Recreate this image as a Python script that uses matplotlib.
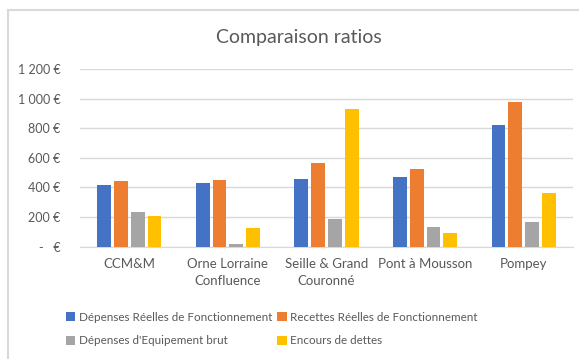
import matplotlib.pyplot as plt
import numpy as np
from matplotlib.patches import Rectangle

plt.rcParams['font.family'] = ['Lato', 'DejaVu Sans']

# collectivités et ratios (€ / habitant)
territoires = ["CCM&M", "Orne Lorraine\nConfluence", "Seille & Grand\nCouronné", "Pont à Mousson", "Pompey"]
depenses_fonct = [417, 428, 460, 471, 822]
recettes_fonct = [443, 449, 568, 527, 978]
depenses_equip = [232, 16, 189, 133, 165]
encours_dettes = [207, 126, 930, 95, 361]

series = [
    ("Dépenses Réelles de Fonctionnement", depenses_fonct, "#4472C4"),
    ("Recettes Réelles de Fonctionnement", recettes_fonct, "#ED7D31"),
    ("Dépenses d'Equipement brut", depenses_equip, "#A5A5A5"),
    ("Encours de dettes", encours_dettes, "#FFC000"),
]
yticks = [0, 200, 400, 600, 800, 1000, 1200]
ylabels = ["-   €", "200 €", "400 €", "600 €", "800 €", "1 000 €", "1 200 €"]

W, H = 579, 359
fig = plt.figure(figsize=(W / 100, H / 100), dpi=100)
txt = "#595959"

# cadre du graphique
fig.patches.append(Rectangle((8 / W, -0.1), 1.2, (H - 10) / H + 0.1,
                             transform=fig.transFigure, fill=False,
                             edgecolor="#D9D9D9", linewidth=1.5))

ax = fig.add_axes([80 / W, (H - 246.7) / H, (573 - 80) / W, (246.7 - 69) / H])
x = np.arange(len(territoires))
bw = 0.14
step = 0.17
handles = []
for i, (name, vals, col) in enumerate(series):
    handles.append(ax.bar(x + (i - 1.5) * step, vals, width=bw, color=col, label=name, zorder=3))

ax.set_xlim(-0.5, len(territoires) - 0.5)
ax.set_ylim(0, 1200)
ax.set_yticks(yticks)
ax.set_yticklabels(ylabels)
ax.set_xticks(x)
ax.set_xticklabels(territoires, linespacing=1.5)
ax.tick_params(length=0, colors=txt, labelsize=9.5)
ax.tick_params(axis="y", pad=14, labelsize=9)
ax.tick_params(axis="x", pad=8)
ax.grid(axis="y", color="#D9D9D9", linewidth=1, zorder=0)
for s in ["top", "right", "left"]:
    ax.spines[s].set_visible(False)
ax.spines["bottom"].set_color("#D9D9D9")

fig.text(299 / W, 1 - 37 / H, "Comparaison ratios", ha="center", va="center",
         fontsize=14, color=txt)

# légende remplie ligne par ligne
order = [0, 2, 1, 3]
leg = fig.legend([handles[k] for k in order], [series[k][0] for k in order],
                 loc="center left", bbox_to_anchor=(66 / W, 1 - 329 / H), ncol=2,
                 frameon=False, fontsize=8.4, handlelength=0.8, handleheight=0.8,
                 handletextpad=0.3, columnspacing=0.45, labelspacing=1.1,
                 borderpad=0, borderaxespad=0)
for t in leg.get_texts():
    t.set_color(txt)

fig.savefig("out.png", dpi=100, facecolor="white")
